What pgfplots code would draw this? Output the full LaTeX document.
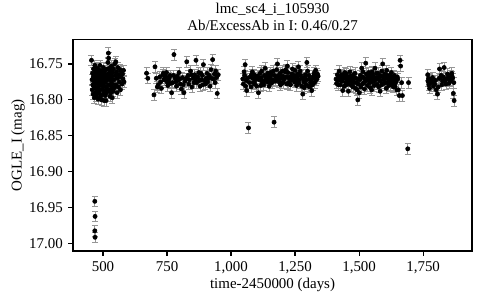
\documentclass[border=0pt]{standalone}
\usepackage{pgfplots}
\pgfplotsset{compat=1.18}
\usepackage{fontspec}
\setmainfont{Liberation Serif}
\definecolor{errgray}{RGB}{150,150,150}
\begin{document}
\begin{tikzpicture}
\begin{axis}[
  name=ax,
  width=266bp, height=141bp, scale only axis,
  xmin=383, xmax=1941,
  ymin=16.716, ymax=17.010,
  y dir=reverse,
  axis lines=box,
  xtick={500,750,1000,1250,1500,1750},
  xticklabels={500,750,{1,000},{1,250},{1,500},{1,750}},
  ytick={16.75,16.80,16.85,16.90,16.95,17.00},
  yticklabels={16.75,16.80,16.85,16.90,16.95,17.00},
  tick align=outside, xtick pos=left, ytick pos=left,
  major tick length=3.3bp,
  tick style={black, line width=0.8pt},
  axis line style={line width=0.8pt, black},
  tick label style={font=\fontsize{10}{12}\selectfont},
  label style={font=\fontsize{10}{12}\selectfont},
  title style={font=\fontsize{10}{12}\selectfont, align=center, yshift=-4bp},
  title={lmc\_sc4\_i\_105930\\Ab/ExcessAb in I: 0.46/0.27},
  xlabel={time-2450000 (days)},
  ylabel={OGLE\_I (mag)},
  xlabel style={yshift=4bp},
  ylabel style={yshift=-4bp},
]
\addplot[only marks, mark=*, mark size=1.4pt, black,
  error bars/.cd, y dir=both, y fixed=0.0075,
  error bar style={color=errgray, line width=0.5pt},
  error mark options={rotate=90, mark size=2bp, color=errgray, line width=0.5pt}]
table {
x y
455 16.745
457 16.772
458 16.786
459 16.763
460 16.779
461 16.792
462 16.768
463 16.757
464 16.781
465 16.774
466 16.797
467 16.765
468 16.752
468 16.941
469 16.962
468 16.982
469 16.991
469 16.784
470 16.771
471 16.790
472 16.760
473 16.777
474 16.795
475 16.766
476 16.783
477 16.756
478 16.773
479 16.788
480 16.762
481 16.799
482 16.770
483 16.781
484 16.758
485 16.791
486 16.767
487 16.776
488 16.752
489 16.786
490 16.769
491 16.795
492 16.763
493 16.779
494 16.772
495 16.800
496 16.760
497 16.785
498 16.774
499 16.766
500 16.792
501 16.755
502 16.781
503 16.770
504 16.801
505 16.763
506 16.788
507 16.776
508 16.759
509 16.794
510 16.768
511 16.782
512 16.801
513 16.765
514 16.790
515 16.773
516 16.757
517 16.785
518 16.769
519 16.748
520 16.779
521 16.735
522 16.742
523 16.763
524 16.787
525 16.771
526 16.756
527 16.795
528 16.766
529 16.780
530 16.760
531 16.790
532 16.774
533 16.753
534 16.784
535 16.768
536 16.797
537 16.762
538 16.778
540 16.788
541 16.757
543 16.772
545 16.783
546 16.750
548 16.766
550 16.747
551 16.779
553 16.761
555 16.790
556 16.770
558 16.755
560 16.782
562 16.765
564 16.775
566 16.758
568 16.786
570 16.768
572 16.761
574 16.778
576 16.764
578 16.771
580 16.759
582 16.775
670 16.763
675 16.770
699 16.793
703 16.754
708 16.770
712 16.782
716 16.779
722 16.768
725 16.775
728 16.784
733 16.765
736 16.763
738 16.772
741 16.770
745 16.767
748 16.762
750 16.775
753 16.780
756 16.772
759 16.769
762 16.766
765 16.777
768 16.790
772 16.776
775 16.766
777 16.737
782 16.770
785 16.775
787 16.781
790 16.767
792 16.773
797 16.762
800 16.771
802 16.778
806 16.785
810 16.769
813 16.779
816 16.790
820 16.774
825 16.770
827 16.747
832 16.766
835 16.778
837 16.772
842 16.760
845 16.765
847 16.782
852 16.770
855 16.776
858 16.765
861 16.771
863 16.745
866 16.776
870 16.768
874 16.762
877 16.773
879 16.781
882 16.763
884 16.772
888 16.766
890 16.779
892 16.751
896 16.773
900 16.778
903 16.770
906 16.763
909 16.775
912 16.770
915 16.766
918 16.781
922 16.758
925 16.770
928 16.744
931 16.771
935 16.764
938 16.776
940 16.760
943 16.769
946 16.791
950 16.765
1046 16.771
1048 16.778
1051 16.761
1053 16.766
1055 16.751
1057 16.781
1059 16.773
1061 16.787
1064 16.770
1068 16.839
1072 16.776
1075 16.768
1078 16.782
1080 16.765
1083 16.761
1085 16.770
1087 16.776
1090 16.765
1093 16.778
1095 16.772
1098 16.769
1100 16.781
1104 16.767
1107 16.790
1110 16.772
1113 16.763
1116 16.780
1118 16.769
1120 16.760
1122 16.775
1126 16.774
1128 16.779
1130 16.766
1133 16.756
1136 16.771
1139 16.768
1141 16.775
1143 16.763
1145 16.768
1147 16.773
1149 16.781
1151 16.769
1153 16.762
1155 16.777
1158 16.765
1160 16.776
1162 16.772
1165 16.760
1168 16.831
1170 16.766
1172 16.774
1176 16.769
1178 16.758
1181 16.750
1183 16.772
1185 16.766
1188 16.775
1191 16.763
1193 16.779
1195 16.770
1198 16.777
1200 16.760
1202 16.767
1204 16.776
1206 16.772
1209 16.770
1211 16.761
1213 16.758
1215 16.768
1218 16.778
1220 16.753
1222 16.762
1224 16.776
1227 16.770
1230 16.768
1232 16.779
1234 16.773
1236 16.769
1238 16.764
1240 16.757
1242 16.771
1246 16.766
1248 16.775
1250 16.759
1252 16.768
1254 16.774
1256 16.780
1258 16.769
1260 16.764
1263 16.754
1265 16.777
1267 16.772
1270 16.760
1272 16.766
1276 16.781
1278 16.770
1280 16.792
1284 16.775
1286 16.783
1288 16.769
1290 16.765
1292 16.778
1294 16.772
1296 16.748
1299 16.760
1302 16.781
1304 16.766
1306 16.771
1308 16.782
1310 16.776
1312 16.773
1315 16.787
1318 16.779
1320 16.770
1322 16.767
1324 16.763
1326 16.776
1328 16.768
1330 16.759
1333 16.772
1335 16.770
1337 16.764
1340 16.767
1410 16.771
1412 16.777
1415 16.765
1417 16.772
1419 16.779
1422 16.760
1424 16.768
1426 16.779
1428 16.773
1430 16.770
1432 16.765
1434 16.774
1436 16.787
1438 16.766
1440 16.770
1442 16.781
1444 16.762
1446 16.769
1448 16.776
1450 16.764
1451 16.779
1453 16.773
1455 16.768
1458 16.788
1460 16.778
1462 16.772
1464 16.761
1466 16.767
1468 16.773
1470 16.780
1472 16.769
1474 16.774
1476 16.782
1478 16.765
1480 16.776
1482 16.770
1484 16.763
1486 16.784
1488 16.770
1490 16.776
1492 16.786
1495 16.800
1496 16.778
1498 16.771
1501 16.790
1503 16.772
1505 16.766
1507 16.782
1510 16.756
1511 16.768
1513 16.778
1515 16.761
1517 16.769
1519 16.776
1521 16.785
1523 16.771
1526 16.749
1528 16.764
1530 16.773
1532 16.780
1534 16.767
1536 16.772
1538 16.762
1540 16.766
1542 16.776
1544 16.783
1546 16.770
1548 16.775
1549 16.786
1551 16.761
1553 16.765
1555 16.769
1557 16.774
1559 16.780
1562 16.756
1564 16.772
1566 16.769
1568 16.763
1570 16.778
1572 16.770
1574 16.763
1576 16.782
1578 16.772
1580 16.766
1582 16.788
1584 16.774
1586 16.767
1588 16.779
1589 16.760
1592 16.750
1594 16.768
1596 16.771
1598 16.777
1600 16.764
1602 16.770
1604 16.776
1606 16.784
1608 16.759
1610 16.766
1612 16.770
1614 16.775
1616 16.780
1618 16.771
1620 16.766
1622 16.779
1624 16.773
1626 16.762
1628 16.768
1630 16.770
1632 16.776
1634 16.782
1636 16.771
1638 16.766
1640 16.781
1642 16.776
1645 16.774
1647 16.786
1649 16.768
1651 16.771
1653 16.786
1657 16.794
1660 16.745
1662 16.753
1666 16.776
1669 16.794
1690 16.868
1693 16.776
1768 16.765
1769 16.774
1771 16.770
1772 16.779
1775 16.784
1777 16.772
1780 16.776
1784 16.774
1787 16.769
1790 16.781
1795 16.778
1798 16.773
1801 16.786
1806 16.792
1809 16.782
1812 16.770
1814 16.757
1816 16.770
1820 16.766
1823 16.779
1826 16.774
1829 16.768
1832 16.755
1836 16.773
1839 16.778
1842 16.771
1845 16.764
1848 16.769
1851 16.777
1855 16.774
1858 16.772
1860 16.766
1862 16.763
1864 16.768
1865 16.770
1868 16.791
1870 16.776
1871 16.801
};
\end{axis}
\pgfresetboundingbox
\path[use as bounding box] ([xshift=-48.7bp,yshift=-32.7bp]ax.south west) rectangle ([xshift=5.3bp,yshift=26.3bp]ax.north east);
\end{tikzpicture}
\end{document}
